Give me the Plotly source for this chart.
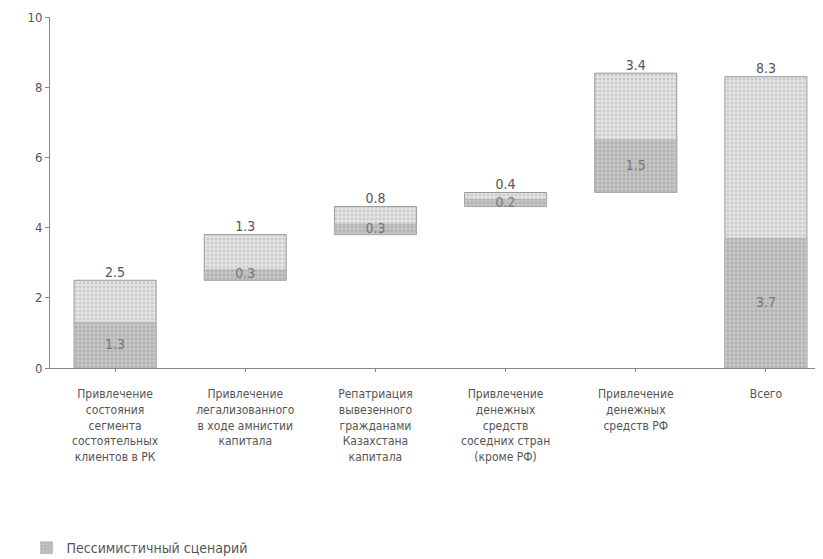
import plotly.graph_objects as go

categories = [
    "Привлечение<br>состояния<br>сегмента<br>состоятельных<br>клиентов в РК",
    "Привлечение<br>легализованного<br>в ходе амнистии<br>капитала",
    "Репатриация<br>вывезенного<br>гражданами<br>Казахстана<br>капитала",
    "Привлечение<br>денежных<br>средств<br>соседних стран<br>(кроме РФ)",
    "Привлечение<br>денежных<br>средств РФ",
    "Всего",
]
optimistic = [2.5, 1.3, 0.8, 0.4, 3.4, 8.3]
pessimistic = [1.3, 0.3, 0.3, 0.2, 1.5, 3.7]

# waterfall bases: steps stack up, the last bar ("Всего") starts from zero
bases = []
running = 0.0
for v in optimistic[:-1]:
    bases.append(running)
    running += v
bases.append(0.0)

x = list(range(len(categories)))
font_fam = "Liberation Sans Narrow, DejaVu Sans Condensed, Arial Narrow, sans-serif"

fig = go.Figure()
fig.add_trace(go.Bar(
    x=x, y=optimistic, base=bases, width=0.63,
    marker=dict(color="#dedede", line=dict(color="#9a9a9a", width=1),
                pattern=dict(shape=".", fgcolor="#b0b0b0", bgcolor="#e2e2e2",
                             size=4, solidity=0.35)),
    showlegend=False, hoverinfo="skip",
))
fig.add_trace(go.Bar(
    x=x, y=pessimistic, base=bases, width=0.63,
    name="Пессимистичный сценарий",
    marker=dict(color="#c4c4c4", line=dict(color="#a8a8a8", width=0.5),
                pattern=dict(shape=".", fgcolor="#999999", bgcolor="#c6c6c6",
                             size=4, solidity=0.4)),
))
# value labels above bars
fig.add_trace(go.Scatter(
    x=x, y=[b + v for b, v in zip(bases, optimistic)],
    mode="text", text=[f"{v:.1f}" for v in optimistic],
    textposition="top center",
    textfont=dict(size=14, color="#555555", family=font_fam),
    showlegend=False, hoverinfo="skip",
))
# labels inside the pessimistic part
fig.add_trace(go.Scatter(
    x=x, y=[b + v / 2 for b, v in zip(bases, pessimistic)],
    mode="text", text=[f"{v:.1f}" for v in pessimistic],
    textposition="middle center",
    textfont=dict(size=14, color="#777777", family=font_fam),
    showlegend=False, hoverinfo="skip",
))

fig.update_layout(
    width=823, height=559,
    barmode="overlay",
    plot_bgcolor="white", paper_bgcolor="white",
    margin=dict(l=42, r=0, t=9, b=199, autoexpand=False),
    font=dict(family=font_fam, color="#555555"),
    legend=dict(x=-0.03, y=-0.513, xanchor="left", yanchor="middle",
                itemwidth=30, font=dict(size=14, color="#555555"),
                bgcolor="rgba(0,0,0,0)"),
)
fig.update_xaxes(
    range=[-0.5, 5.5], tickmode="array", tickvals=x, ticktext=categories,
    showline=True, linecolor="#888888", linewidth=1,
    ticks="outside", tickson="boundaries", ticklen=3, tickcolor="#888888",
    tickfont=dict(size=12, color="#555555"), showgrid=False, tickangle=0,
    ticklabelstandoff=12, automargin=False,
)
fig.update_yaxes(
    range=[0, 10], dtick=2, showline=True, linecolor="#888888", linewidth=1,
    ticks="outside", ticklen=4, tickcolor="#888888",
    tickfont=dict(size=13, color="#555555"), showgrid=False, zeroline=False,
    automargin=False,
)

fig.write_html("out.html")
